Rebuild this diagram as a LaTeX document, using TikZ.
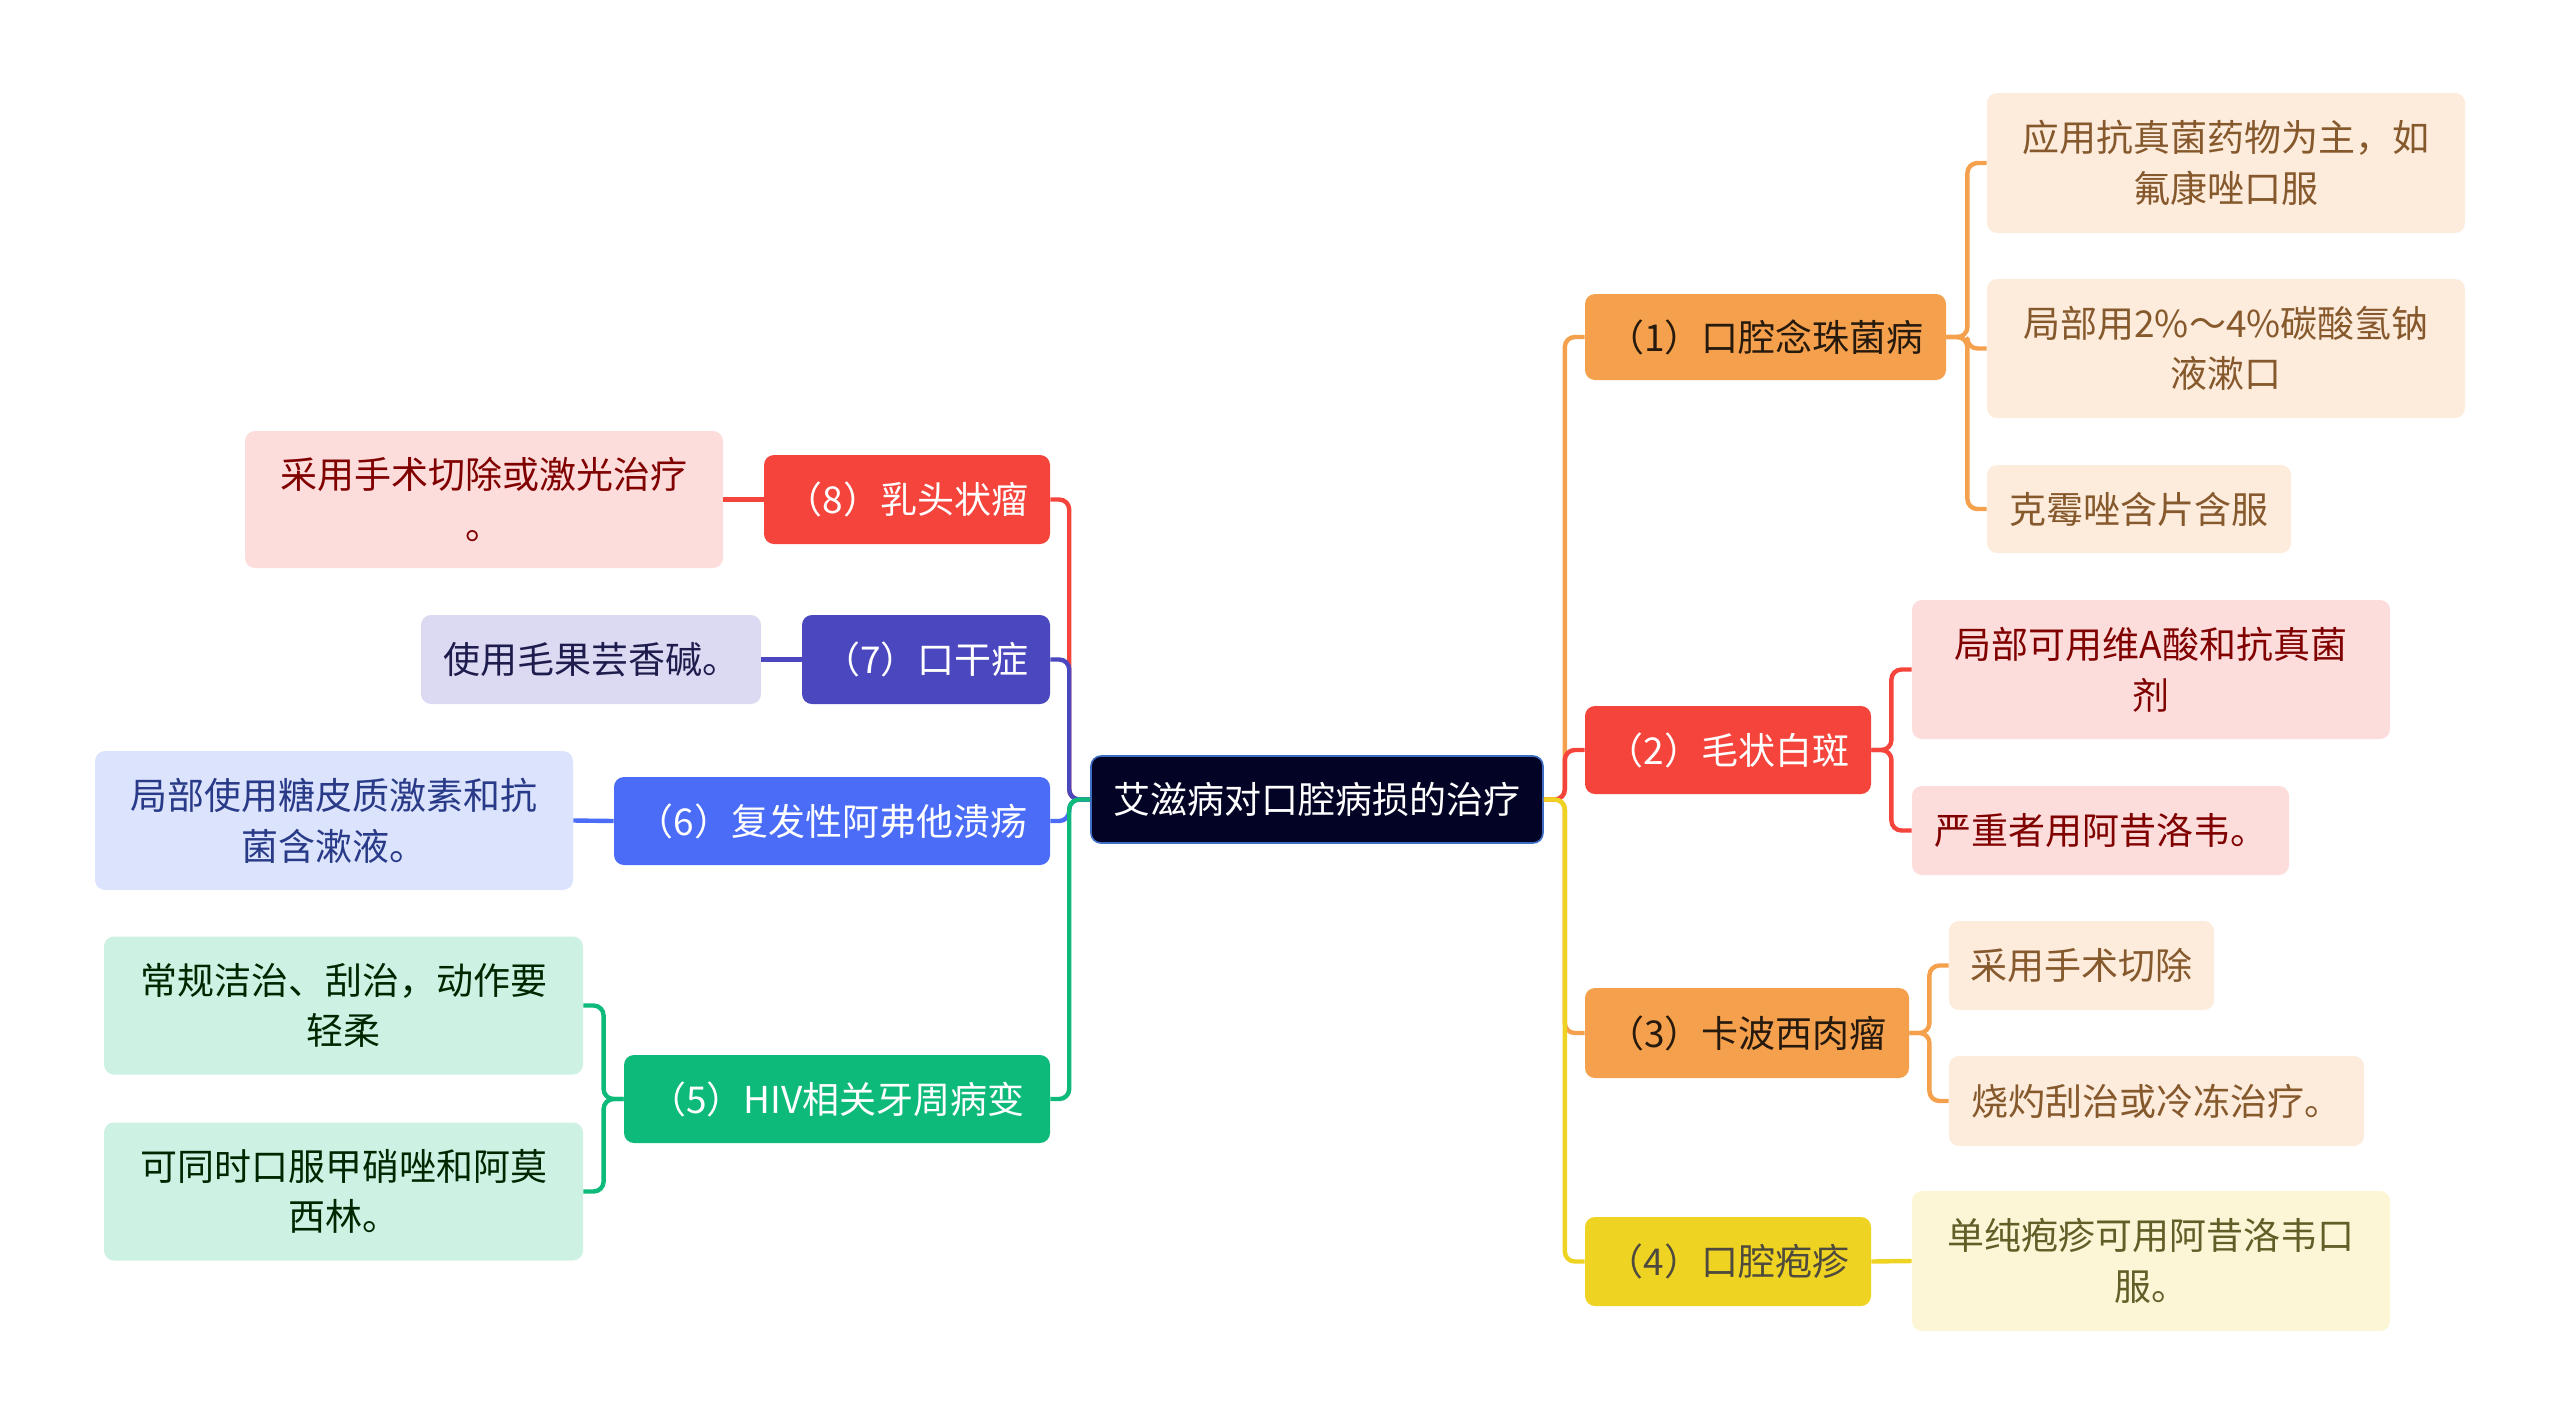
\documentclass[tikz,border=0pt]{standalone}
\usepackage{fontspec}
\setmainfont{Noto Sans CJK SC}
\begin{document}
\begin{tikzpicture}[x=0.5pt, y=-0.5pt, line join=round, font=\fontsize{18.5}{25.3}\selectfont]
	\definecolor{rootfill}{HTML}{030325}
	\definecolor{rootedge}{HTML}{3C6FC4}
	\definecolor{orangeA}{HTML}{F5A04C}
	\definecolor{redA}{HTML}{F5443C}
	\definecolor{yellowA}{HTML}{EFD323}
	\definecolor{purpleA}{HTML}{4B47BE}
	\definecolor{blueA}{HTML}{4A6CF7}
	\definecolor{greenA}{HTML}{0DBA7A}
	\definecolor{orangeL}{HTML}{FDEBDC}
	\definecolor{redL}{HTML}{FDDCDC}
	\definecolor{yellowL}{HTML}{FDF6D6}
	\definecolor{purpleL}{HTML}{DCDAF3}
	\definecolor{blueL}{HTML}{DCE3FC}
	\definecolor{greenL}{HTML}{CDF1E2}
	\tikzset{box/.style={rounded corners=5pt, inner sep=0pt, align=center},
	wh/.style 2 args={minimum width=#1, minimum height=#2},
	root/.style={box, fill=rootfill, draw=rootedge, line width=0.8pt, text=white},
	topic/.style={box, fill=#1, text=white},
	leaf/.style={box, fill=#1},
	link/.style={line width=2.2pt, rounded corners=5pt}}
	\useasboundingbox (0,0) rectangle (2560,1425);
	% centre
	\node[root, wh={226pt}{43.5pt}] (root) at (1317,799.5) {艾滋病对口腔病损的治疗};
	% right branches
	\node[topic=orangeA, text=black!80!brown, wh={180.5pt}{43pt}] (s1) at (1765.5,337) {（1）口腔念珠菌病};
	\node[leaf=orangeL, text=brown!70!black, wh={239pt}{70pt}] (s1a) at (2226,163) {应用抗真菌药物为主，如\\氟康唑口服};
	\node[leaf=orangeL, text=brown!70!black, wh={239pt}{69.5pt}] (s1b) at (2226,348.5) {局部用2\%～4\%碳酸氢钠\\液漱口};
	\node[leaf=orangeL, text=brown!70!black, wh={152pt}{44pt}] (s1c) at (2139,509) {克霉唑含片含服};
	\node[topic=redA, wh={143pt}{44pt}] (s2) at (1728,750) {（2）毛状白斑};
	\node[leaf=redL, text=red!50!black, wh={239pt}{69.5pt}] (s2a) at (2151,669.5) {局部可用维A酸和抗真菌\\剂};
	\node[leaf=redL, text=red!50!black, wh={188.5pt}{44.5pt}] (s2b) at (2100.5,830.5) {严重者用阿昔洛韦。};
	\node[topic=orangeA, text=black!80!brown, wh={162pt}{45pt}] (s3) at (1747,1033) {（3）卡波西肉瘤};
	\node[leaf=orangeL, text=brown!70!black, wh={132.5pt}{44.5pt}] (s3a) at (2081.5,965.5) {采用手术切除};
	\node[leaf=orangeL, text=brown!70!black, wh={207.5pt}{45pt}] (s3b) at (2156.5,1101) {烧灼刮治或冷冻治疗。};
	\node[topic=yellowA, text=black!80!yellow, wh={143pt}{44.5pt}] (s4) at (1728,1261.5) {（4）口腔疱疹};
	\node[leaf=yellowL, text=olive!60!black, wh={239pt}{70pt}] (s4a) at (2151,1261) {单纯疱疹可用阿昔洛韦口\\服。};
	% left branches
	\node[topic=redA, wh={143pt}{44.5pt}] (s8) at (907,499.5) {（8）乳头状瘤};
	\node[leaf=redL, text=red!50!black, wh={239pt}{68.5pt}] (s8a) at (484,499.5) {采用手术切除或激光治疗\\。};
	\node[topic=purpleA, wh={124pt}{44.5pt}] (s7) at (926,659.5) {（7）口干症};
	\node[leaf=purpleL, text=purpleA!40!black, wh={170pt}{44.5pt}] (s7a) at (591,659.5) {使用毛果芸香碱。};
	\node[topic=blueA, wh={218pt}{44pt}] (s6) at (832,821) {（6）复发性阿弗他溃疡};
	\node[leaf=blueL, text=blueA!55!black, wh={239pt}{69.5pt}] (s6a) at (334,820.5) {局部使用糖皮质激素和抗\\菌含漱液。};
	\node[topic=greenA, wh={213pt}{44pt}] (s5) at (837,1099) {（5）HIV相关牙周病变};
	\node[leaf=greenL, text=black!85!green, wh={239.5pt}{69pt}] (s5a) at (343.5,1005.5) {常规洁治、刮治，动作要\\轻柔};
	\node[leaf=greenL, text=black!85!green, wh={239.5pt}{69pt}] (s5b) at (343.5,1191.5) {可同时口服甲硝唑和阿莫\\西林。};
	% connectors
	\draw[link, orangeA] (root.east) -- ++(21,0) |- (s1.west);
	\draw[link, redA] (root.east) -- ++(21,0) |- (s2.west);
	\draw[link, orangeA] (root.east) -- ++(21,0) |- (s3.west);
	\draw[link, yellowA] (root.east) -- ++(21,0) |- (s4.west);
	\draw[link, redA] (root.west) -- ++(-21,0) |- (s8.east);
	\draw[link, purpleA] (root.west) -- ++(-21,0) |- (s7.east);
	\draw[link, blueA] (root.west) -- ++(-21,0) |- (s6.east);
	\draw[link, greenA] (root.west) -- ++(-21,0) |- (s5.east);
	\draw[link, orangeA] (s1.east) -- ++(21,0) |- (s1a.west);
	\draw[link, orangeA] (s1.east) -- ++(21,0) |- (s1b.west);
	\draw[link, orangeA] (s1.east) -- ++(21,0) |- (s1c.west);
	\draw[link, redA] (s2.east) -- ++(20,0) |- (s2a.west);
	\draw[link, redA] (s2.east) -- ++(20,0) |- (s2b.west);
	\draw[link, orangeA] (s3.east) -- ++(20,0) |- (s3a.west);
	\draw[link, orangeA] (s3.east) -- ++(20,0) |- (s3b.west);
	\draw[link, yellowA] (s4.east) -- (s4a.west);
	\draw[link, redA] (s8.west) -- (s8a.east);
	\draw[link, purpleA] (s7.west) -- (s7a.east);
	\draw[link, blueA] (s6.west) -- (s6a.east);
	\draw[link, greenA] (s5.west) -- ++(-20,0) |- (s5a.east);
	\draw[link, greenA] (s5.west) -- ++(-20,0) |- (s5b.east);
\end{tikzpicture}
\end{document}
